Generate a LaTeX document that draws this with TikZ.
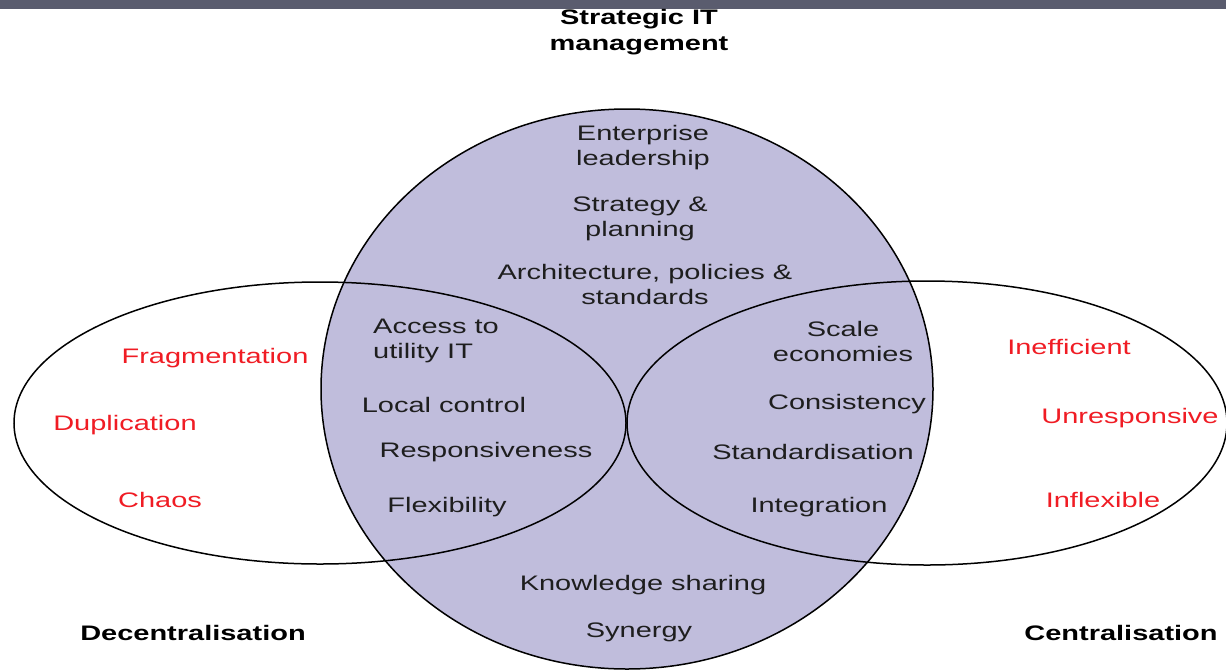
\documentclass[tikz,border=0pt]{standalone}
\usepackage{fontspec}
\setmainfont{Liberation Sans}[FakeStretch=1.38]
\definecolor{bargray}{RGB}{90,92,110}
\definecolor{lavender}{RGB}{192,189,220}
\definecolor{warnred}{RGB}{240,28,36}
\definecolor{ink}{RGB}{30,30,30}
\begin{document}
\begin{tikzpicture}[x=1pt,y=-1pt,
  lbl/.style={font=\fontsize{21}{25}\selectfont, inner sep=0pt, align=center, text=ink},
  risk/.style={lbl, text=warnred},
  heading/.style={lbl, font=\fontsize{21}{26}\selectfont\bfseries, text=black},
  outline/.style={draw=black, line width=1.5pt}]
  % canvas and top band
  \useasboundingbox (0,0) rectangle (1226,670);
  \fill[white] (0,0) rectangle (1226,670);
  \fill[bargray] (0,0) rectangle (1226,9);

  % strategic IT management area
  \fill[lavender] (627,389) ellipse [x radius=306pt, y radius=280pt];
  \draw[outline] (627,389) ellipse [x radius=306pt, y radius=280pt];
  % decentralisation and centralisation areas
  \draw[outline] (320,423) ellipse [x radius=306pt, y radius=141pt];
  \draw[outline] (927,423) ellipse [x radius=300pt, y radius=142pt];

  % headings
  \node[heading] (title) at (639,32) {Strategic IT\\management};
  \node[heading] (decen) at (193,633) {Decentralisation};
  \node[heading] (cen) at (1121,633) {Centralisation};

  % top of the circle
  \node[lbl] (lead) at (643,148) {Enterprise\\leadership};
  \node[lbl] (plan) at (640,219) {Strategy \&\\planning};
  \node[lbl] (arch) at (645,284) {Architecture, policies \&\\standards};

  % left overlap
  \node[lbl, align=left, anchor=west] (access) at (373,341) {Access to\\utility IT};
  \node[lbl] (local) at (444,405) {Local control};
  \node[lbl] (resp) at (486,452) {Responsiveness};
  \node[lbl] (flex) at (447,507) {Flexibility};

  % right overlap
  \node[lbl] (scale) at (843,341) {Scale\\economies};
  \node[lbl] (cons) at (847,404) {Consistency};
  \node[lbl] (std) at (813,452) {Standardisation};
  \node[lbl] (integ) at (819,507) {Integration};

  % bottom of the circle
  \node[lbl] (know) at (643,585) {Knowledge sharing};
  \node[lbl] (syn) at (639,632) {Synergy};

  % downsides
  \node[risk] (frag) at (215,358) {Fragmentation};
  \node[risk] (dup) at (125,425) {Duplication};
  \node[risk] (chaos) at (160,500) {Chaos};
  \node[risk] (ineff) at (1069,347) {Inefficient};
  \node[risk] (unresp) at (1130,418) {Unresponsive};
  \node[risk] (inflex) at (1103,500) {Inflexible};
\end{tikzpicture}
\end{document}
